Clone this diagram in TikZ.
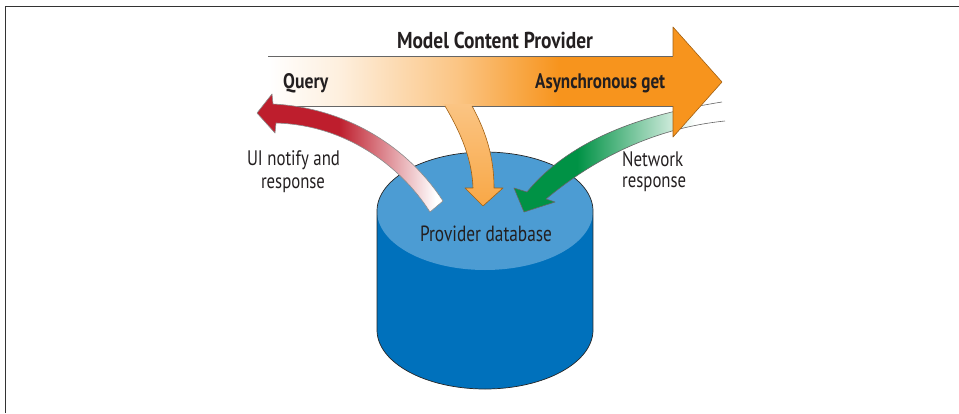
\documentclass[tikz,border=0pt]{standalone}
\usepackage{fontspec}
\setmainfont{PT Sans}
\usepackage{graphicx}
\definecolor{myorange}{RGB}{247,148,29}
\definecolor{myred}{RGB}{190,30,45}
\definecolor{mygreen}{RGB}{0,146,69}
\definecolor{toplight}{RGB}{76,156,211}
\definecolor{sideblue}{RGB}{0,113,188}
\definecolor{txt}{RGB}{35,31,32}
\colorlet{orA}{myorange!15!white}
\colorlet{orB}{myorange!55!white}
\colorlet{orTop}{myorange!55!white}
\colorlet{orBot}{myorange!82!white}
\colorlet{orLine}{myorange!65!black}
\pgfdeclarehorizontalshading{bigarrow}{100bp}{color(0bp)=(white); color(25bp)=(white); color(33bp)=(orA); color(46bp)=(orB); color(57bp)=(myorange); color(100bp)=(myorange)}
\pgfdeclarehorizontalshading{greenfade}{100bp}{color(0bp)=(mygreen); color(40bp)=(mygreen); color(68bp)=(white); color(100bp)=(white)}
\pgfdeclarehorizontalshading{redfade}{100bp}{color(0bp)=(myred); color(47bp)=(myred); color(73bp)=(white); color(100bp)=(white)}
\newcommand{\fitw}[2]{\resizebox{#1}{\height}{#2}}
\begin{document}
\begin{tikzpicture}[x=1pt,y=-1pt,
  outl/.style={draw=black!60, line width=0.6pt, line join=round},
  headl/.style={draw=orLine, line width=0.6pt, line join=round},
  lbl/.style={inner sep=0pt, text=txt},
  boldlbl/.style={lbl, font=\bfseries\fontsize{21}{21}\selectfont},
  plainlbl/.style={lbl, font=\fontsize{21}{21}\selectfont}]
\useasboundingbox (0,0) rectangle (959,413);
% frame
\draw[black!80, line width=1.3pt] (5.5,413) -- (5.5,6.5) -- (959,6.5);

% cylinder
\fill[sideblue] (377,211) rectangle (593,330);
\fill[sideblue] (485,330) ellipse [x radius=108pt, y radius=59pt];
\fill[toplight] (485,211) ellipse [x radius=108pt, y radius=59pt];
\draw[black!85, line width=0.7pt] (593,211) -- (593,330) arc[start angle=0, end angle=-180, x radius=108pt, y radius=59pt] -- (377,211) arc[start angle=180, end angle=0, x radius=108pt, y radius=59pt];

% green arrow (behind the main arrow)
\shade[shading=greenfade] (725,121) .. controls (655,128) and (595,158) .. (546,199) -- (555,202) -- (524,212) -- (514,188) -- (527,192) .. controls (570,140) and (640,115) .. (722,102) -- cycle;
\draw[outl] (725,121) .. controls (655,128) and (595,158) .. (546,199) -- (555,202) -- (524,212) -- (514,188) -- (527,192) .. controls (570,140) and (640,115) .. (722,102);

% main arrow
\shade[shading=bigarrow] (268,56) -- (673,56) -- (673,27) -- (722,82) -- (673,137) -- (673,106) -- (268,106) -- cycle;
% down arrow
\shade[top color=orTop, bottom color=orBot] (443,104) -- (445,106) .. controls (462,135) and (472,160) .. (473,188) -- (465,188) -- (483,206) -- (503,188) -- (494,188) .. controls (494,155) and (485,130) .. (472,106) -- (474,104) -- cycle;
\draw[outl] (673,56) -- (268,56);
\draw[outl] (268,106) -- (445,106);
\draw[outl] (472,106) -- (673,106);
\draw[headl] (673,56) -- (673,27) -- (722,82) -- (673,137) -- (673,106);
\draw[headl] (472,106) .. controls (485,130) and (494,155) .. (494,188) -- (503,188) -- (483,206) -- (465,188) -- (473,188) .. controls (472,160) and (462,135) .. (445,106);

% red arrow
\shade[shading=redfade] (257,113) -- (272,94) -- (273,104) .. controls (350,108) and (410,150) .. (443,201) -- (430,212) .. controls (400,165) and (345,125) .. (276,123) -- (275,133) -- cycle;
\draw[outl, draw=black!45] (257,113) -- (272,94) -- (273,104) .. controls (350,108) and (410,150) .. (443,201) -- (430,212) .. controls (400,165) and (345,125) .. (276,123) -- (275,133) -- cycle;

% texts
\node[lbl, anchor=base, font=\bfseries\fontsize{23}{23}\selectfont] (title) at (495,48) {\fitw{196pt}{Model Content Provider}};
\node[boldlbl, anchor=base west] (query) at (283,88) {\fitw{45pt}{Query}};
\node[boldlbl, anchor=base west] (async) at (535,88) {\fitw{130pt}{Asynchronous get}};
\node[plainlbl, anchor=base] (ui1) at (293.5,165.5) {\fitw{93pt}{UI notify and}};
\node[plainlbl, anchor=base] (ui2) at (293,188) {\fitw{64pt}{response}};
\node[plainlbl, anchor=base west] (net1) at (622,166.5) {\fitw{61pt}{Network}};
\node[plainlbl, anchor=base west] (net2) at (622,187.5) {\fitw{64pt}{response}};
\node[lbl, anchor=base, font=\fontsize{22}{22}\selectfont] (db) at (486,241.5) {\fitw{132pt}{Provider database}};
\end{tikzpicture}
\end{document}
